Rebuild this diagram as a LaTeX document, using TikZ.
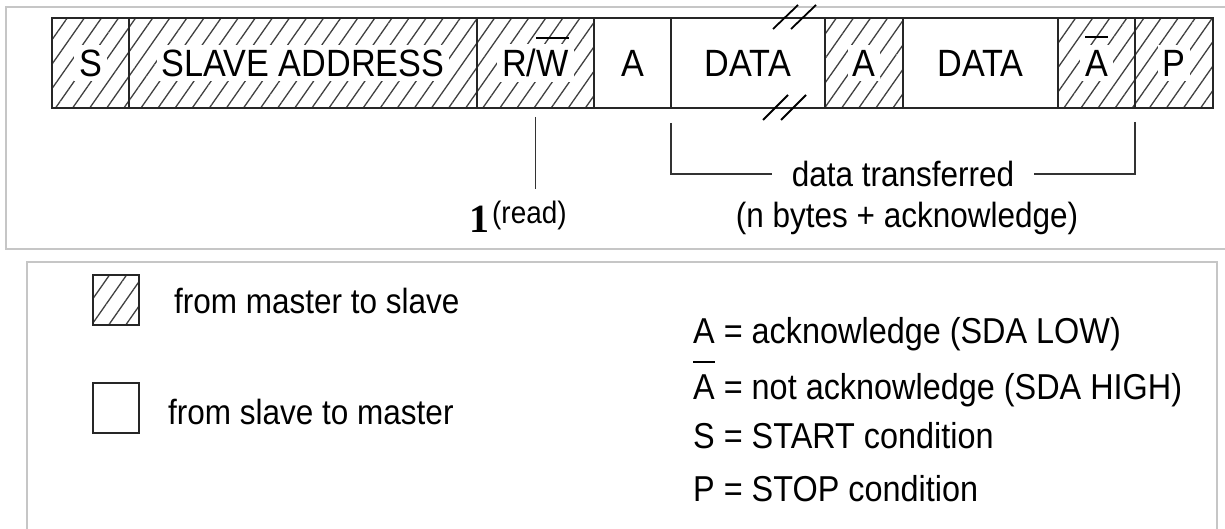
\documentclass[tikz,border=0pt]{standalone}
\usepackage{fontspec}
\setmainfont{Liberation Sans}[FakeStretch=0.9]
\newfontfamily\numfont{Liberation Serif}
\usepackage{tikz}
\usetikzlibrary{positioning,patterns.meta}
\newcommand{\ovl}[1]{\setbox0\hbox{#1}\rlap{\smash{\rule[1.0em]{\wd0}{1.6pt}}}\box0\relax}

\begin{document}
\begin{tikzpicture}[
      x=1pt, y=-1pt,
      font=\fontsize{35}{42}\selectfont,
      frame/.style={draw=gray!45, line width=1.5pt},
      cell/.style={draw=black!85, line width=1.8pt, minimum height=90pt, inner sep=0pt, outer sep=0pt,
        font=\fontsize{38}{45}\selectfont},
      hcell/.style={cell, pattern={Lines[angle=55,distance=14pt,line width=1.3pt]}, pattern color=black!75},
      tag/.style={fill=white, inner sep=5pt, font=\fontsize{38}{45}\selectfont},
      brk/.style={line width=1.8pt},
      lead/.style={line width=1.5pt, black!80},
      txt/.style={inner sep=0pt, anchor=base west},
    ]
      \useasboundingbox (0,0) rectangle (1225,529);
      \draw[frame] (6,7) rectangle (1240,249);
      \draw[frame] (27,262) rectangle (1217,545);

      \node[hcell, minimum width=77pt, anchor=north west, label={[tag]center:S}] (s) at (52,18) {};
      \node[hcell, minimum width=348pt, right=0pt of s, label={[tag]center:SLAVE ADDRESS}] (addr) {};
      \node[hcell, minimum width=117pt, right=0pt of addr, label={[tag]center:R/\ovl{W}}] (rw) {};
      \node[cell, minimum width=77pt, right=0pt of rw] (a1) {A};
      \node[cell, minimum width=154pt, right=0pt of a1] (d1) {DATA};
      \node[hcell, minimum width=78pt, right=0pt of d1, label={[tag]center:A}] (a2) {};
      \node[cell, minimum width=155pt, right=0pt of a2] (d2) {DATA};
      \node[hcell, minimum width=77pt, right=0pt of d2, label={[tag]center:\ovl{A}}] (nack) {};
      \node[hcell, minimum width=78pt, right=0pt of nack, label={[tag]center:P}] (p) {};

      \foreach \dx in {0,18} {
        \draw[brk] (773+\dx,29) -- (798+\dx,5);
        \draw[brk] (763+\dx,120) -- (788+\dx,95);
      }

      \node[txt, font=\fontsize{40}{48}\selectfont\numfont\bfseries] (one) at (469,233) {1};
      \node[txt, font=\fontsize{31}{37}\selectfont] (rd) at (492,224) {(read)};
      \draw[lead] ([yshift=-9pt]rw.south) -- ([yshift=-81pt]rw.south);

      \node[inner xsep=20pt, inner ysep=0pt] (xfer) at (903,174) {data transferred};
      \node[anchor=base, inner sep=0pt] (nbytes) at (907,228) {(n bytes + acknowledge)};
      \draw[lead] ([yshift=-15pt]d1.south west) |- (xfer.west);
      \draw[lead] ([yshift=-14pt]nack.south east) |- (xfer.east);

      \node[hcell, minimum width=46pt, minimum height=50pt, line width=1.5pt] (mkey) at (116,300) {};
      \node[cell, minimum width=46pt, minimum height=50pt, line width=1.5pt] (skey) at (116,408) {};
      \node[txt] (mtext) at (174,313) {from master to slave};
      \node[txt] (stext) at (168,424) {from slave to master};

      \begin{scope}[font=\fontsize{36}{43}\selectfont]
        \node[txt] (ack) at (693,343) {A = acknowledge (SDA LOW)};
        \node[txt] (nak) at (693,399) {\ovl{A} = not acknowledge (SDA HIGH)};
        \node[txt] (st) at (693,448) {S = START condition};
        \node[txt] (sp) at (693,501) {P = STOP condition};
      \end{scope}
    \end{tikzpicture}
\end{document}
